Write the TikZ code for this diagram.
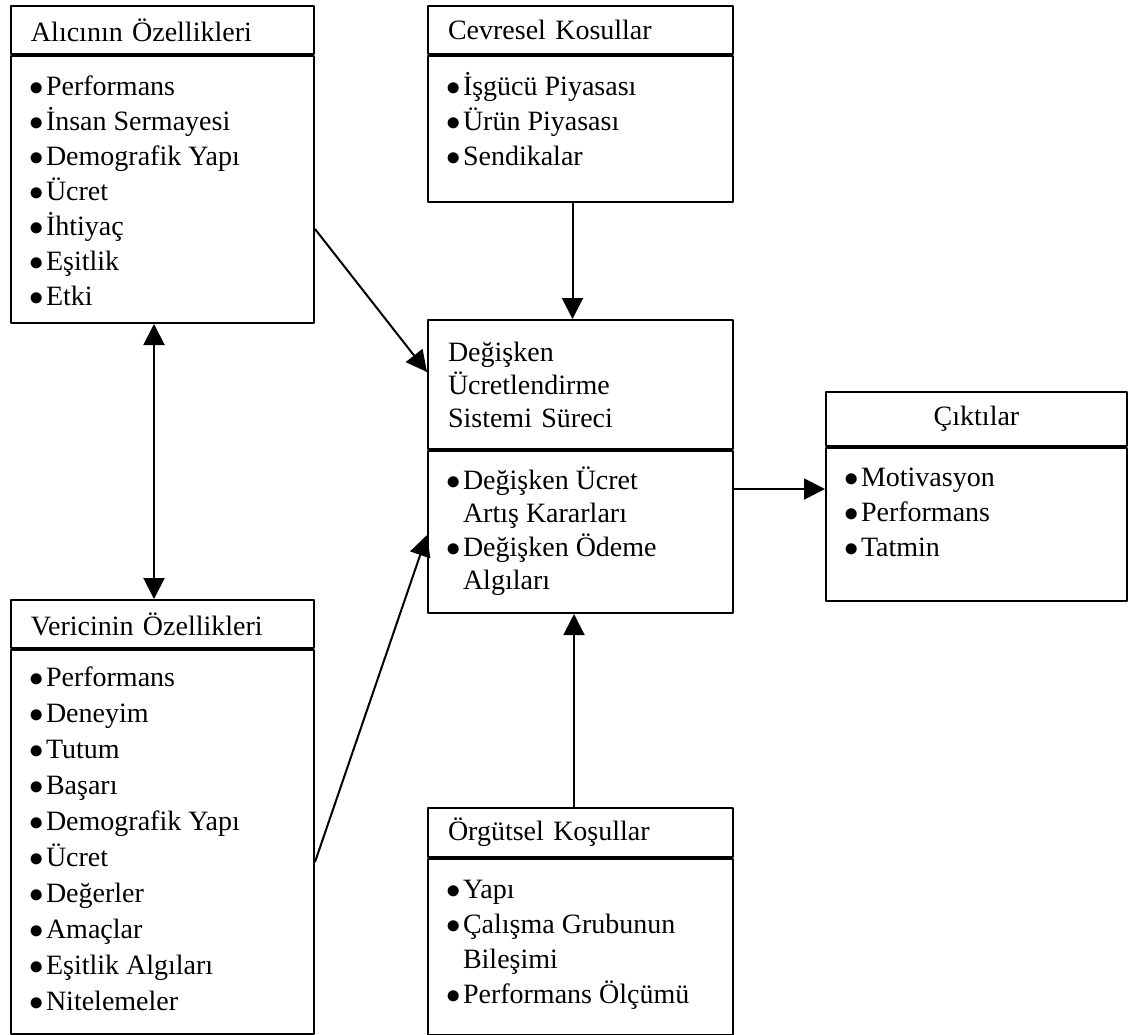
\documentclass[tikz,border=0pt]{standalone}
\usepackage{fontspec}
\setmainfont{Liberation Serif}
\usetikzlibrary{arrows.meta}
\newcommand\blt{\makebox[8.5pt][l]{$\bullet$}}
\newcommand\ind{\hspace*{8.5pt}}
\newcommand\boxbody[4][19.5pt]{\parbox[c][#2][t]{#3}{\raggedright\rule{0pt}{#1}#4}}
\begin{document}
\begin{tikzpicture}[x=0.5pt, y=-0.5pt, line width=1pt, line join=round, font=\fontsize{14}{17.5}\selectfont, >={Triangle[length=10.5pt,width=10.5pt]},
	head/.style={draw, anchor=north west, inner xsep=10pt, inner ysep=0pt, align=left},
	body/.style={draw, anchor=north west, inner sep=0pt, inner xsep=9pt}]
	\useasboundingbox (0,0) rectangle (1128,1034);
	\path
	(10,5) coordinate (A)
	(427,5) coordinate (C)
	(427,319) coordinate (D)
	(825,391) coordinate (E)
	(10,599) coordinate (V)
	(427,807) coordinate (O);
	\node[head, text width=131.5pt, minimum height=24pt] (alici) at (A) {Alıcının Özellikleri};
	\node[body] (alicib) at (alici.south west) {\boxbody{133.5pt}{133.5pt}{\blt Performans\\ \blt İnsan Sermayesi\\ \blt Demografik Yapı\\ \blt Ücret\\ \blt İhtiyaç\\ \blt Eşitlik\\ \blt Etki}};
	\node[head, text width=132.5pt, minimum height=24pt] (cev) at (C) {Cevresel Kosullar};
	\node[body] (cevb) at (cev.south west) {\boxbody{73pt}{134.5pt}{\blt İşgücü Piyasası\\ \blt Ürün Piyasası\\ \blt Sendikalar}};
	\node[head, text width=132.5pt, minimum height=64.5pt, font=\fontsize{14}{16.5}\selectfont] (deg) at (D) {Değişken\\ Ücretlendirme\\ Sistemi Süreci};
	\node[body] (degb) at (deg.south west) {\boxbody[19pt]{81pt}{134.5pt}{\fontsize{14}{16.75}\selectfont\blt Değişken Ücret\\ \ind Artış Kararları\\ \blt Değişken Ödeme\\ \ind Algıları}};
	\node[head, text width=130.5pt, minimum height=27pt, align=center] (cik) at (E) {Çıktılar};
	\node[body] (cikb) at (cik.south west) {\boxbody[19pt]{76.5pt}{132.5pt}{\blt Motivasyon\\ \blt Performans\\ \blt Tatmin}};
	\node[head, text width=131.5pt, minimum height=24pt] (veric) at (V) {Vericinin Özellikleri};
	\node[body] (vericib) at (veric.south west) {\boxbody[18pt]{192pt}{133.5pt}{\fontsize{14}{18}\selectfont\blt Performans\\ \blt Deneyim\\ \blt Tutum\\ \blt Başarı\\ \blt Demografik Yapı\\ \blt Ücret\\ \blt Değerler\\ \blt Amaçlar\\ \blt Eşitlik Algıları\\ \blt Nitelemeler}};
	\node[head, text width=132.5pt, minimum height=24.5pt] (org) at (O) {Örgütsel Koşullar};
	\node[body] (orgb) at (org.south west) {\boxbody{88pt}{134.5pt}{\blt Yapı\\ \blt Çalışma Grubunun\\ \ind Bileşimi\\ \blt Performans Ölçümü}};
	\coordinate (P) at ([yshift=-19.5pt]degb.north east);
	\draw[->] ([xshift=-4pt]cevb.south) -- ([xshift=-4pt]deg.north);
	\draw[->] ([xshift=-3.25pt]org.north) -- ([xshift=-3.25pt]degb.south);
	\draw[<->] ([xshift=-4.25pt]alicib.south) -- ([xshift=-4.25pt]veric.north);
	\draw[->] (P) -- (P -| cikb.west);
	\draw[->] ([yshift=-87pt]alicib.north east) -- ([yshift=-26.5pt]deg.north west);
	\draw[->] ([yshift=-106.5pt]vericib.north east) -- ([yshift=-42.5pt]degb.north west);
\end{tikzpicture}
\end{document}
